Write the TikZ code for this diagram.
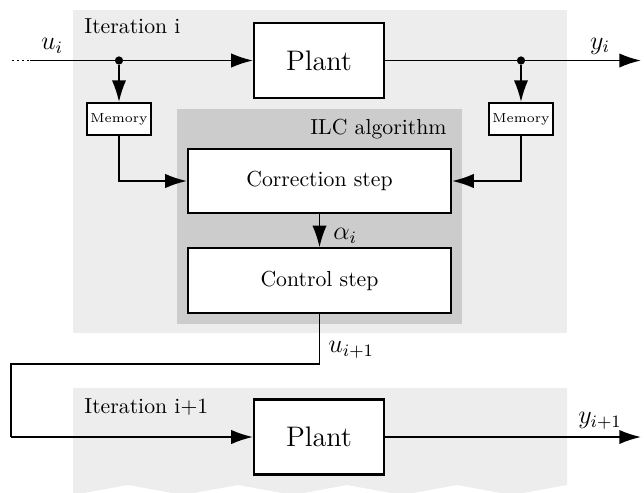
\documentclass[tikz,border=0pt]{standalone}
\usetikzlibrary{arrows.meta}
\definecolor{lightbg}{HTML}{EDEDED}
\definecolor{ilcbg}{HTML}{CCCCCC}
\begin{document}
\begin{tikzpicture}[x=0.46pt,y=-0.46pt,
  blk/.style={draw, fill=white, line width=0.95pt, inner sep=0pt, align=center},
  plantbox/.style={blk, minimum width=59.8pt, minimum height=34.5pt, font=\fontsize{13}{15}\selectfont},
  membox/.style={blk, minimum width=29.4pt, minimum height=14.7pt, font=\fontsize{6}{7}\selectfont},
  stepbox/.style={blk, minimum width=121pt, minimum height=29.6pt},
  conn/.style={line width=0.8pt, -{Latex[length=10pt,width=6.6pt]}},
  wire/.style={line width=0.8pt},
  junc/.style={circle, fill=black, inner sep=0pt, minimum size=3.8pt},
  lbl/.style={inner sep=0pt, font=\large}]
\useasboundingbox (0,0) rectangle (644,492);
% backgrounds
\fill[lightbg] (73,10) rectangle (567,333);
\fill[ilcbg] (177,109) rectangle (462,324);
\fill[lightbg] (73,388) -- (567,388) -- (567,485) -- (512,495) -- (457,485) -- (402,495) -- (347,485)
  -- (293,495) -- (238,485) -- (183,495) -- (128,485) -- (73,495) -- cycle;
% labels of regions
\node[anchor=base west, inner sep=0pt] (it1) at (84,33) {Iteration i};
\node[anchor=base east, inner sep=0pt] (ilc) at (447,134) {ILC algorithm};
\node[anchor=base west, inner sep=0pt] (it2) at (84,413) {Iteration i+1};
% blocks
\node[plantbox] (plant1) at (319,60.5) {Plant};
\node[membox] (mem1) at (119,119) {Memory};
\node[membox] (mem2) at (521,119) {Memory};
\node[stepbox] (corr) at (319.5,181) {Correction step};
\node[stepbox] (ctrl) at (319.5,280.5) {Control step};
\node[plantbox] (plant2) at (319,437) {Plant};
% coordinates
\coordinate (uin) at (30,60.5);
\coordinate (dots) at (12,60.5);
\coordinate (yout1) at (641,60.5);
\coordinate (yout2) at (641,437);
\node[junc] (j1) at (119,60.5) {};
\node[junc] (j2) at (521,60.5) {};
\coordinate (c1) at (319.5,364);
\coordinate (c2) at (11,364);
\coordinate (c3) at (11,437);
% connectors
\draw[wire, dash pattern=on 0.8pt off 1.5pt] (dots) -- (uin);
\draw[conn] (uin) -- (plant1.west);
\draw[conn] (plant1.east) -- (yout1);
\draw[conn] (j1) -- (mem1.north);
\draw[conn] (j2) -- (mem2.north);
\draw[conn] (mem1.south) |- (corr.west);
\draw[conn] (mem2.south) |- (corr.east);
\draw[conn] (corr.south) -- (ctrl.north);
\draw[wire] (ctrl.south) -- (c1) -- (c2) -- (c3);
\draw[conn] (c3) -- (plant2.west);
\draw[conn] (plant2.east) -- (yout2);
% signal labels
\node[lbl] (lu) at (52,46) {$u_i$};
\node[lbl] (ly) at (600,46) {$y_i$};
\node[lbl, anchor=west] (la) at (333,236) {$\alpha_i$};
\node[lbl, anchor=west] (lu2) at (328,350) {$u_{i+1}$};
\node[lbl] (ly2) at (600,421) {$y_{i+1}$};
\end{tikzpicture}
\end{document}
